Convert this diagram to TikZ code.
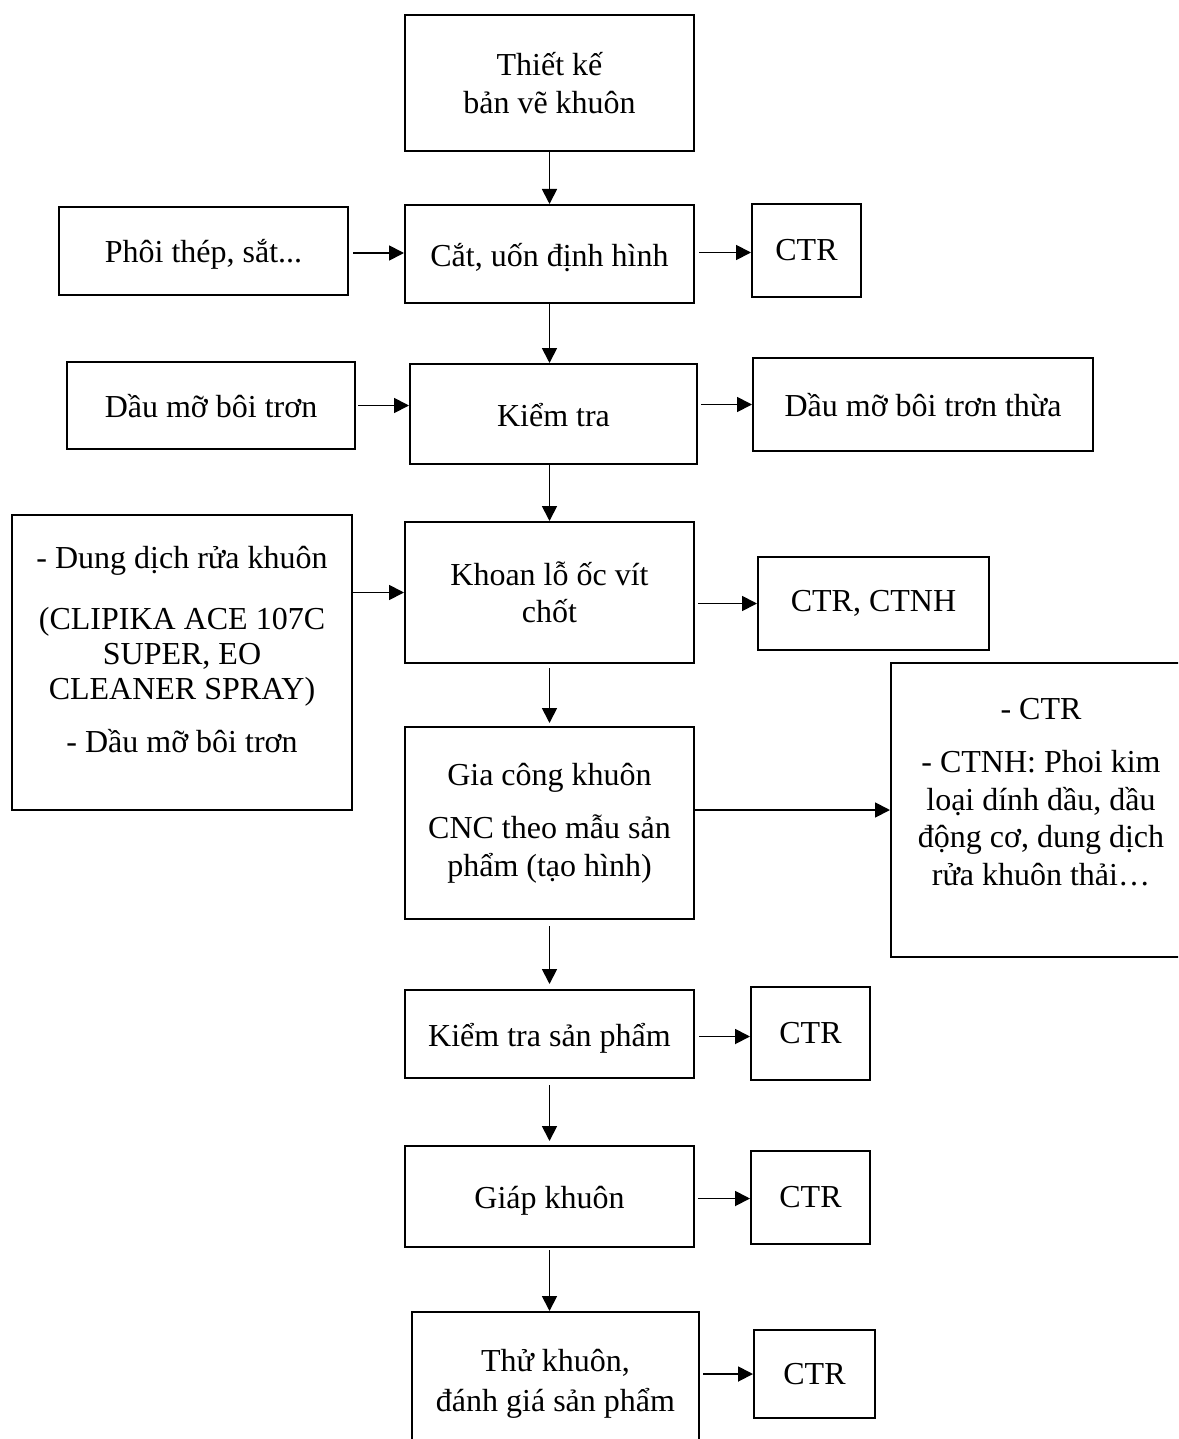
\documentclass[tikz,border=0pt]{standalone}
\usepackage{fontspec}
\setmainfont{Liberation Serif}
\usetikzlibrary{arrows.meta,calc}
\newcommand\flowfont{\fontsize{16}{18.75}\selectfont}
\newcommand\tightfont{\fontsize{16}{17.5}\selectfont}

\begin{document}
\begin{tikzpicture}[x=0.5pt,y=-0.5pt,
  box/.style={draw,line width=1pt,inner sep=0pt,align=center,font=\flowfont},
  oneline/.style={text height=12.5pt,text depth=0.5pt},
  txt/.style={inner sep=0pt,align=center},
  arr/.style={line width=0.9pt,-{Triangle[length=7.5pt,width=7.5pt]}}]
\useasboundingbox (0,0) rectangle (1178,1439);
\clip (0,0) rectangle (1178,1439);
\fill[white] (0,0) rectangle (1178,1439);

% main process chain
\node[box,minimum width=144.5pt,minimum height=68pt] (design) at (549.5,83) {Thiết kế\\bản vẽ khuôn};
\node[box,oneline,minimum width=144.5pt,minimum height=49pt] (cut) at (549.5,254) {Cắt, uốn định hình};
\node[box,oneline,minimum width=143.5pt,minimum height=50pt] (check) at (553.5,414) {Kiểm tra};
\node[box,minimum width=144.5pt,minimum height=70.5pt] (drill) at (549.5,592.5) {Khoan lỗ ốc vít\\chốt};
\node[box,minimum width=144.5pt,minimum height=96pt] (gia) at (549.5,823) {Gia công khuôn\\[8pt]CNC theo mẫu sản\\phẩm (tạo hình)};
\node[box,oneline,minimum width=144.5pt,minimum height=44pt] (ksp) at (549.5,1034) {Kiểm tra sản phẩm};
\node[box,oneline,minimum width=144.5pt,minimum height=50.5pt] (giap) at (549.5,1196.5) {Giáp khuôn};
\node[box,minimum width=143.5pt,minimum height=72pt] (thu) at (555.5,1384) {Thử khuôn,\\[1pt]đánh giá sản phẩm};

% inputs
\node[box,oneline,minimum width=144.5pt,minimum height=44pt] (phoi) at (203.5,251) {Phôi thép, sắt...};
\node[box,oneline,minimum width=144pt,minimum height=43.5pt] (oil) at (211,405.5) {Dầu mỡ bôi trơn};
\node[box,minimum width=170pt,minimum height=147.5pt] (left) at (182,662.5) {};
\node[txt,font=\tightfont] (lefttext) at (182,650) {- Dung dịch rửa khuôn\\[13pt](CLIPIKA ACE 107C\\SUPER, EO\\CLEANER SPRAY)\\[9pt]- Dầu mỡ bôi trơn};

% outputs
\node[box,minimum width=54.5pt,minimum height=46.5pt] (ctr1) at (806.5,250.5) {CTR};
\node[box,oneline,minimum width=170pt,minimum height=46.5pt] (oilx) at (923,404.5) {Dầu mỡ bôi trơn thừa};
\node[box,minimum width=115.5pt,minimum height=46.5pt] (ctrnh) at (873.5,603.5) {CTR, CTNH};
\node[box,minimum width=150pt,minimum height=147pt] (right) at (1041,810) {};
\node[txt,font=\flowfont] (righttext) at (1041,792) {- CTR\\[8pt]- CTNH: Phoi kim\\loại dính dầu, dầu\\động cơ, dung dịch\\rửa khuôn thải…};
\node[box,minimum width=59.5pt,minimum height=46.5pt] (ctr2) at (810.5,1033.5) {CTR};
\node[box,minimum width=59.5pt,minimum height=46.5pt] (ctr3) at (810.5,1197.5) {CTR};
\node[box,minimum width=60.5pt,minimum height=44pt] (ctr4) at (814.5,1374) {CTR};

% vertical flow
\draw[arr] (design.south) -- (cut.north);
\draw[arr] (cut.south) -- (cut.south |- check.north);
\draw[arr] (check.south -| drill.north) -- (drill.north);
\draw[arr] ($(drill.south)+(0,4)$) -- ($(gia.north)+(0,-3)$);
\draw[arr] ($(gia.south)+(0,6)$) -- ($(ksp.north)+(0,-5)$);
\draw[arr] ($(ksp.south)+(0,6)$) -- ($(giap.north)+(0,-4)$);
\draw[arr] ($(giap.south)+(0,2)$) -- (giap.south |- thu.north);

% inputs into the chain
\draw[arr] ($(phoi.east)+(4,2)$) -- ($(phoi.east -| cut.west)+(0,2)$);
\draw[arr] ($(oil.east)+(2,0)$) -- (oil.east -| check.west);
\draw[arr] (left.east |- drill.west) -- (drill.west);

% outputs from the chain
\draw[arr] ($(cut.east |- ctr1.west)+(4,2)$) -- ($(ctr1.west)+(0,2)$);
\draw[arr] ($(check.east |- oilx.west)+(3,0)$) -- (oilx.west);
\draw[arr] ($(drill.east |- ctrnh.west)+(3,0)$) -- (ctrnh.west);
\draw[arr] (gia.east |- right.west) -- (right.west);
\draw[arr] ($(ksp.east |- ctr2.west)+(4,3)$) -- ($(ctr2.west)+(0,3)$);
\draw[arr] ($(giap.east |- ctr3.west)+(3,1)$) -- ($(ctr3.west)+(0,1)$);
\draw[arr] ($(thu.east |- ctr4.west)+(3,0)$) -- (ctr4.west);
\end{tikzpicture}
\end{document}
